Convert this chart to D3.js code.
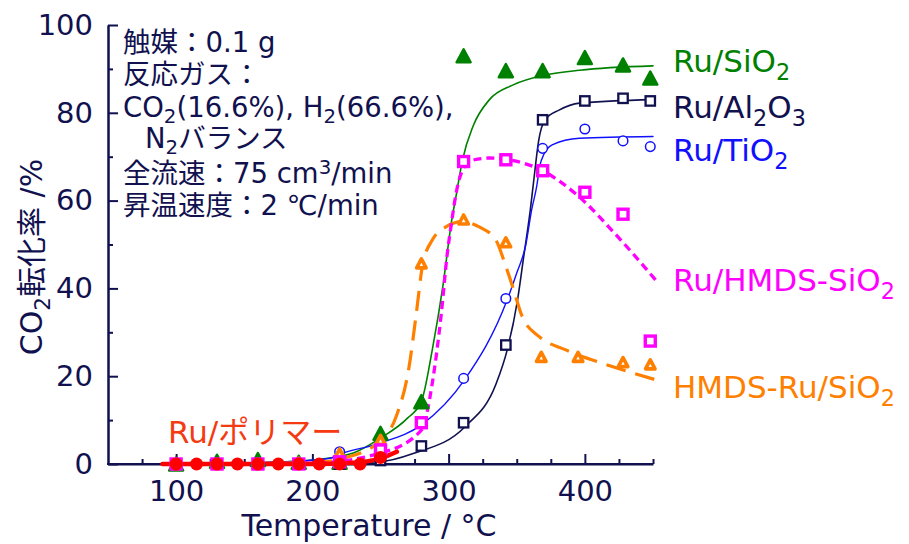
<!DOCTYPE html>
<html>
<head>
<meta charset="utf-8">
<script src="https://cdn.jsdelivr.net/npm/d3@7"></script>
<style>
  body { margin: 0; background: #ffffff; }
  svg { display: block; }
</style>
</head>
<body>
<svg id="chart" width="909" height="544"></svg>
<script>
// ---- measured conversions (CO2 conversion, %) ----
const tempMain   = [100, 130, 160, 190, 220, 250, 280, 311, 342, 369, 400, 428, 448];
const tempOrange = [100, 130, 160, 190, 220, 250, 280, 311, 342, 368, 395, 428, 448];
const tempPolymer = [100, 115, 130, 145, 160, 175, 190, 205, 220, 235, 250];

const convSiO2     = [0, 0.6, 1.0, 0.4, 0.4, 7.0, 14.2, 93.0, 89.6, 89.6, 92.6, 90.9, 87.9];
const convAl2O3    = [0, 0, 0, 0, 0, 0.8, 4.1, 9.4, 27.1, 78.4, 82.7, 83.3, 82.7];
const convTiO2     = [0, 0, 0, 0, 2.8, 4.5, 9.5, 19.5, 37.7, 71.9, 76.3, 73.6, 72.3];
const convHMDSSiO2 = [0, 0, 0, 0, 0.5, 3.2, 9.4, 68.9, 69.3, 66.8, 61.9, 56.9, 28.0];
const convHMDSRu   = [0, 0, 0, 0.3, 2.4, 5.5, 45.7, 55.7, 50.5, 24.4, 24.4, 23.2, 22.7];
const convPolymer  = [0, 0, 0, 0, 0, 0, 0, 0, 0, 0, 1.5];

// ---- fitted curves (temperature, conversion) ----
const fitSiO2T = [90, 150, 200, 230, 250, 270, 280, 288, 296, 302, 306, 310, 318, 330, 347, 371, 396, 450];
const fitSiO2V = [0, 0.2, 0.9, 2.5, 5.9, 10.5, 14.2, 26, 41, 55, 62, 69, 77, 83, 86.3, 88.6, 89.7, 90.7];

const fitAl2O3T = [90, 200, 249, 274, 312, 335, 343, 350.6, 355, 360, 363, 366, 371, 381, 396, 450];
const fitAl2O3V = [0, 0.1, 0.5, 2.4, 8.5, 18.4, 26, 37.4, 47, 58, 66, 73.5, 78.5, 80.6, 82.2, 83];

const fitTiO2T = [90, 180, 213, 220, 249, 280, 311.5, 343, 350, 356.7, 361, 364.5, 367, 370, 376, 396, 450];
const fitTiO2V = [0, 0.5, 1.3, 2.2, 4.7, 8.9, 19.1, 37.4, 43.5, 50, 58, 63, 68, 70.6, 72.7, 74.2, 74.6];

const fitHMDSSiO2T = [90, 200, 249, 280, 288, 294.4, 299.3, 301.7, 305.5, 310.3, 317.6, 330, 342, 369, 396, 422, 452];
const fitHMDSSiO2V = [0, 0.2, 2.4, 7.7, 18.4, 33.6, 48.7, 54, 61.7, 67, 69.2, 69.7, 69.4, 66.8, 60.8, 52.5, 41.9];

const fitHMDSRuT = [90, 200, 225, 249, 261.5, 271, 276, 281, 288, 298, 310, 322.5, 334.7, 342, 347, 354, 366.5, 386, 420, 453];
const fitHMDSRuV = [0, 0.3, 1.5, 5.1, 10.8, 22.2, 33.6, 45.5, 51, 54, 55.2, 54, 51, 45, 40.4, 33.6, 29, 26, 22.2, 19.1];

const fitPolymerT = [90, 200, 230, 250, 262];
const fitPolymerV = [0, 0, 0.3, 1.3, 2.8];

// ---- axes ----
const xDomain = [50, 450];
const yDomain = [0, 100];
const xMajorTicks = [100, 200, 300, 400];
const xMinorTicks = [75, 125, 150, 175, 225, 250, 275, 325, 350, 375, 425, 450];
const yMajorTicks = [0, 20, 40, 60, 80, 100];
const yMinorTicks = [10, 30, 50, 70, 90];

// ---- text ----
const xTitle = [["Temperature / °C"]];
const yTitle = [["CO"], ["2", "sub"], ["転化率 /%"]];
const labelSiO2     = [["Ru/SiO"], ["2", "sub"]];
const labelAl2O3    = [["Ru/Al"], ["2", "sub"], ["O"], ["3", "sub"]];
const labelTiO2     = [["Ru/TiO"], ["2", "sub"]];
const labelHMDSSiO2 = [["Ru/HMDS-SiO"], ["2", "sub"]];
const labelHMDSRu   = [["HMDS-Ru/SiO"], ["2", "sub"]];
const labelPolymer  = [["Ru/ポリマー"]];
const conditionLines = [
  [["触媒：0.1 g"]],
  [["反応ガス："]],
  [["CO"], ["2", "sub"], ["(16.6%), H"], ["2", "sub"], ["(66.6%),"]],
  [["N"], ["2", "sub"], ["バランス"]],
  [["全流速：75 cm"], ["3", "sup"], ["/min"]],
  [["昇温速度：2 ℃/min"]]
];

// ---- drawing ----
const FONT = "'DejaVu Sans', 'Noto Sans CJK JP', sans-serif";
const NAVY = "#11114f";
const GREEN = "#008000";
const BLUE = "#1010ff";
const MAGENTA = "#ff00ff";
const ORANGE = "#ff8000";
const RED = "#ff0000";
const POLY_TEXT = "#f53a12";

const svg = d3.select("#chart");
const x = d3.scaleLinear().domain(xDomain).range([108, 653]);
const y = d3.scaleLinear().domain(yDomain).range([464, 25]);

function richText(parent, px, py, parts, size, color, anchor, subShift) {
  const t = parent.append("text")
    .attr("x", px).attr("y", py)
    .attr("font-family", FONT)
    .attr("font-size", size)
    .attr("fill", color)
    .attr("text-anchor", anchor || "start");
  const sub = subShift == null ? 0.26 : subShift;
  let shift = 0;
  parts.forEach(([s, mode]) => {
    const target = mode === "sub" ? size * sub : mode === "sup" ? -size * 0.34 : 0;
    const ts = t.append("tspan").text(s).attr("dy", target - shift);
    if (mode) ts.attr("font-size", size * 0.72);
    shift = target;
  });
  return t;
}

function styleAxis(g) {
  g.attr("font-family", FONT).attr("font-size", 29);
  g.selectAll("path.domain").attr("stroke", NAVY).attr("stroke-width", 2);
  g.selectAll(".tick line").attr("stroke", NAVY).attr("stroke-width", 2);
  g.selectAll(".tick text").attr("fill", NAVY);
}

// x axis
const gxMinor = svg.append("g").attr("transform", `translate(0,${y(0)})`)
  .call(d3.axisBottom(x).tickValues(xMinorTicks).tickSizeInner(-5).tickSizeOuter(0).tickFormat(""));
styleAxis(gxMinor);
const gxMajor = svg.append("g").attr("transform", `translate(0,${y(0)})`)
  .call(d3.axisBottom(x).tickValues(xMajorTicks).tickSizeInner(-10).tickSizeOuter(0).tickPadding(16));
styleAxis(gxMajor);
gxMajor.select("path.domain").attr("d", `M${x(50) - 1},0H${x(450)}`);

// y axis
const gyMinor = svg.append("g").attr("transform", `translate(${x(50)},0)`)
  .call(d3.axisLeft(y).tickValues(yMinorTicks).tickSizeInner(-5).tickSizeOuter(0).tickFormat(""));
styleAxis(gyMinor);
const gyMajor = svg.append("g").attr("transform", `translate(${x(50)},0)`)
  .call(d3.axisLeft(y).tickValues(yMajorTicks).tickSizeInner(-10).tickSizeOuter(0).tickPadding(15));
styleAxis(gyMajor);

// axis titles
richText(svg, 369, 536, xTitle, 30, NAVY, "middle");
const yt = svg.append("g").attr("transform", "translate(42,257) rotate(-90)");
richText(yt, 0, 0, yTitle, 30, NAVY, "middle");

// reaction conditions
const condX = [123, 123, 123, 145, 123, 123];
const condY = [52, 84, 117, 148, 183, 215];
conditionLines.forEach((parts, i) => richText(svg, condX[i], condY[i], parts, 27.5, NAVY, "start", 0.22));

// curves
const line = d3.line().x(d => x(d[0])).y(d => y(d[1])).curve(d3.curveMonotoneX);
const zip = (a, b) => a.map((v, i) => [v, b[i]]);
const plot = svg.append("g");

function drawFit(T, V, color, width, dash) {
  plot.append("path")
    .attr("d", line(zip(T, V)))
    .attr("fill", "none")
    .attr("stroke", color)
    .attr("stroke-width", width)
    .attr("stroke-dasharray", dash || null)
    .attr("stroke-linecap", dash ? "butt" : "round");
}

function triPath(w, h) {
  return `M0,${-h / 2}L${w / 2},${h / 2}L${-w / 2},${h / 2}Z`;
}

// Ru/SiO2
drawFit(fitSiO2T, fitSiO2V, GREEN, 1.6);
// Ru/Al2O3
drawFit(fitAl2O3T, fitAl2O3V, NAVY, 1.6);
// Ru/TiO2
drawFit(fitTiO2T, fitTiO2V, BLUE, 1.4);
// HMDS-Ru/SiO2
drawFit(fitHMDSRuT, fitHMDSRuV, ORANGE, 3.2, "20,10");
// Ru/HMDS-SiO2
drawFit(fitHMDSSiO2T, fitHMDSSiO2V, MAGENTA, 3.3, "8,5");
// Ru/polymer
drawFit(fitPolymerT, fitPolymerV, RED, 4.5);

// markers
plot.append("g").selectAll("path").data(zip(tempMain, convSiO2)).join("path")
  .attr("transform", d => `translate(${x(d[0])},${y(d[1])})`)
  .attr("d", triPath(14, 13))
  .attr("fill", GREEN).attr("stroke", GREEN).attr("stroke-width", 2.5).attr("stroke-linejoin", "round");

plot.append("g").selectAll("rect").data(zip(tempMain, convAl2O3)).join("rect")
  .attr("x", d => x(d[0]) - 4.7).attr("y", d => y(d[1]) - 4.7)
  .attr("width", 9.4).attr("height", 9.4)
  .attr("fill", "#fff").attr("stroke", NAVY).attr("stroke-width", 2.3);

plot.append("g").selectAll("circle").data(zip(tempMain, convTiO2)).join("circle")
  .attr("cx", d => x(d[0])).attr("cy", d => y(d[1])).attr("r", 4.8)
  .attr("fill", "#fff").attr("stroke", BLUE).attr("stroke-width", 1.5);

plot.append("g").selectAll("path").data(zip(tempOrange, convHMDSRu)).join("path")
  .attr("transform", d => `translate(${x(d[0])},${y(d[1])})`)
  .attr("d", triPath(9.5, 9))
  .attr("fill", "#fff").attr("stroke", ORANGE).attr("stroke-width", 3.6).attr("stroke-linejoin", "round");

plot.append("g").selectAll("rect").data(zip(tempMain, convHMDSSiO2)).join("rect")
  .attr("x", d => x(d[0]) - 5).attr("y", d => y(d[1]) - 5)
  .attr("width", 10).attr("height", 10)
  .attr("fill", "#fff").attr("stroke", MAGENTA).attr("stroke-width", 3.4);

plot.append("g").selectAll("circle").data(zip(tempPolymer, convPolymer)).join("circle")
  .attr("cx", d => x(d[0])).attr("cy", d => y(d[1])).attr("r", 6.5)
  .attr("fill", RED);

// series labels
richText(svg, 673, 72, labelSiO2, 31, GREEN);
richText(svg, 673, 118, labelAl2O3, 31, NAVY);
richText(svg, 673, 161, labelTiO2, 31, BLUE);
richText(svg, 673, 291, labelHMDSSiO2, 31, MAGENTA);
richText(svg, 673, 398, labelHMDSRu, 31, ORANGE);
richText(svg, 168, 443, labelPolymer, 31, POLY_TEXT);
</script>
</body>
</html>
